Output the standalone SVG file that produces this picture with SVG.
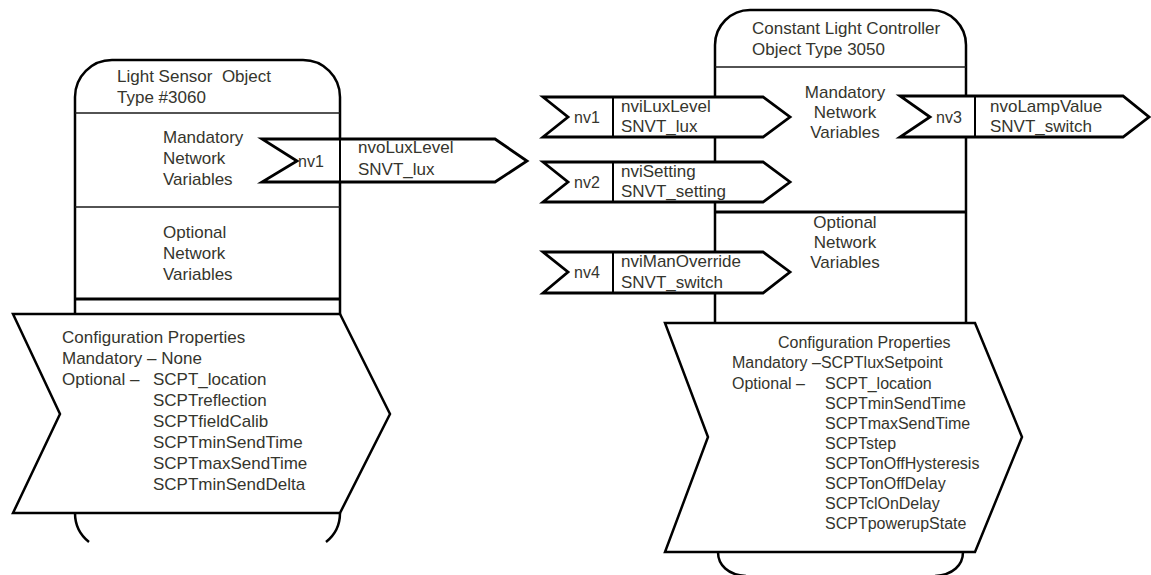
<svg xmlns="http://www.w3.org/2000/svg" width="1151" height="575" viewBox="0 0 1151 575">
  <style>
    .body { fill: #ffffff; stroke: #000000; stroke-width: 2.5; }
    .edge { fill: none; stroke: #000000; stroke-width: 2.5; }
    .thin { fill: none; stroke: #1a1a1a; stroke-width: 1.5; }
    .thick { fill: none; stroke: #000000; stroke-width: 3; }
    .nv { fill: #ffffff; stroke: #000000; stroke-width: 2.8; stroke-linejoin: miter; }
    .div { stroke: #000000; stroke-width: 2; }
    text { font-family: "Liberation Sans", Arial, sans-serif; fill: #35352d; font-size: 17px; }
    .sm { font-size: 16px; }
    .mid { text-anchor: middle; }
  </style>

  <!-- Light sensor object block -->
  <g id="light-sensor">
    <rect x="75" y="60" width="265" height="255" fill="#ffffff" stroke="none"/>
    <path class="edge" d="M75,315 L75,97 A37,37 0 0 1 112,60 L303,60 A37,37 0 0 1 340,97 L340,315"/>
    <line class="thin" x1="75" y1="113" x2="340" y2="113"/>
    <line class="thin" x1="75" y1="207" x2="340" y2="207"/>
    <line class="thick" x1="75" y1="299" x2="340" y2="299"/>
    <text x="117" y="82">Light Sensor&#160; Object</text>
    <text x="117" y="103">Type #3060</text>
    <text x="163" y="143">Mandatory</text>
    <text x="163" y="164">Network</text>
    <text x="163" y="185">Variables</text>
    <text x="163" y="238">Optional</text>
    <text x="163" y="259">Network</text>
    <text x="163" y="280">Variables</text>
    <path class="edge" d="M75,513 A37,37 0 0 0 89,542"/>
    <path class="edge" d="M340,513 A37,37 0 0 1 326,542"/>
  </g>

  <!-- Light sensor configuration properties -->
  <g id="sensor-config">
    <polygon class="body" points="13,314 340,314 390,414 340,513 13,513 60,414"/>
    <text x="62" y="343">Configuration Properties</text>
    <text x="62" y="364">Mandatory – None</text>
    <text x="62" y="385">Optional –</text>
    <text x="153" y="385">SCPT_location</text>
    <text x="153" y="406">SCPTreflection</text>
    <text x="153" y="427">SCPTfieldCalib</text>
    <text x="153" y="448">SCPTminSendTime</text>
    <text x="153" y="469">SCPTmaxSendTime</text>
    <text x="153" y="490">SCPTminSendDelta</text>
  </g>

  <!-- Constant light controller object block -->
  <g id="light-controller">
    <rect x="715" y="10" width="251" height="314" fill="#ffffff" stroke="none"/>
    <path class="edge" d="M715,324 L715,45 A35,35 0 0 1 750,10 L931,10 A35,35 0 0 1 966,45 L966,324"/>
    <line class="thin" x1="715" y1="67" x2="966" y2="67"/>
    <line class="thick" x1="715" y1="212" x2="966" y2="212"/>
    <text x="752" y="34">Constant Light Controller</text>
    <text x="752" y="55">Object Type 3050</text>
    <text class="mid" x="845" y="98">Mandatory</text>
    <text class="mid" x="845" y="118">Network</text>
    <text class="mid" x="845" y="138">Variables</text>
    <text class="mid" x="845" y="228">Optional</text>
    <text class="mid" x="845" y="248">Network</text>
    <text class="mid" x="845" y="268">Variables</text>
    <path class="edge" d="M718,552 C718,565 728,575 746,576"/>
    <path class="edge" d="M963,552 C963,565 953,575 935,576"/>
  </g>

  <!-- Controller configuration properties -->
  <g id="controller-config">
    <polygon class="body" points="665,323 975,323 1022,437 975,552 665,552 708,437"/>
    <text class="sm" x="778" y="348">Configuration Properties</text>
    <text class="sm" x="732" y="368">Mandatory –SCPTluxSetpoint</text>
    <text class="sm" x="732" y="389">Optional –</text>
    <text class="sm" x="825" y="389">SCPT_location</text>
    <text class="sm" x="825" y="409">SCPTminSendTime</text>
    <text class="sm" x="825" y="429">SCPTmaxSendTime</text>
    <text class="sm" x="825" y="449">SCPTstep</text>
    <text class="sm" x="825" y="469">SCPTonOffHysteresis</text>
    <text class="sm" x="825" y="489">SCPTonOffDelay</text>
    <text class="sm" x="825" y="509">SCPTclOnDelay</text>
    <text class="sm" x="825" y="529">SCPTpowerupState</text>
  </g>

  <!-- Network variable pointers -->
  <g id="connectors">
    <g id="sensor-nv1">
      <polygon class="nv" points="262,139 495,139 527,161 495,182 262,182 297,161"/>
      <line class="div" x1="340" y1="139" x2="340" y2="182"/>
      <text class="sm" x="298" y="167">nv1</text>
      <text x="358" y="153">nvoLuxLevel</text>
      <text x="358" y="175">SNVT_lux</text>
    </g>
    <g id="controller-nv1">
      <polygon class="nv" points="543,97 763,97 790,117 763,137 543,137 568,117"/>
      <line class="div" x1="613" y1="97" x2="613" y2="137"/>
      <text class="sm" x="574" y="123">nv1</text>
      <text x="621" y="112">nviLuxLevel</text>
      <text x="621" y="132">SNVT_lux</text>
    </g>
    <g id="controller-nv2">
      <polygon class="nv" points="543,162 763,162 790,182 763,202 543,202 568,182"/>
      <line class="div" x1="613" y1="162" x2="613" y2="202"/>
      <text class="sm" x="574" y="188">nv2</text>
      <text x="621" y="177">nviSetting</text>
      <text x="621" y="197">SNVT_setting</text>
    </g>
    <g id="controller-nv4">
      <polygon class="nv" points="543,252 763,252 790,272 763,293 543,293 568,272"/>
      <line class="div" x1="613" y1="252" x2="613" y2="293"/>
      <text class="sm" x="574" y="278">nv4</text>
      <text x="621" y="267">nviManOverride</text>
      <text x="621" y="288">SNVT_switch</text>
    </g>
    <g id="controller-nv3">
      <polygon class="nv" points="900,96 1123,96 1149,117 1123,137 900,137 930,117"/>
      <line class="div" x1="975" y1="96" x2="975" y2="137"/>
      <text class="sm" x="936" y="123">nv3</text>
      <text x="990" y="112">nvoLampValue</text>
      <text x="990" y="132">SNVT_switch</text>
    </g>
  </g>
</svg>
